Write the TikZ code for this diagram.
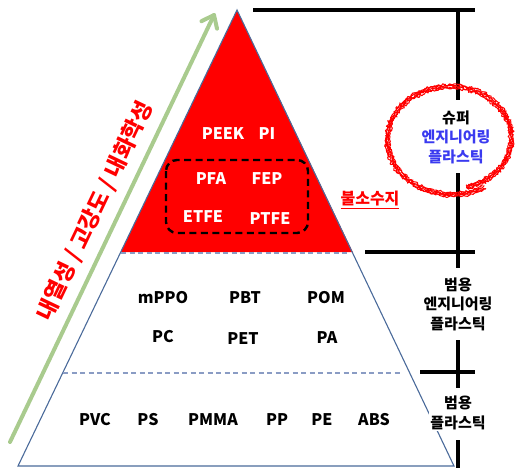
\documentclass[tikz,border=0pt]{standalone}
\usepackage{fontspec}
\setmainfont{Noto Sans CJK KR}
\usetikzlibrary{calc}
\definecolor{edgeblue}{HTML}{4A6A9A}
\definecolor{sepblue}{HTML}{8A9CC4}
\definecolor{arrowgreen}{HTML}{A9CB8E}
\definecolor{labelblue}{HTML}{3A3AF0}
\tikzset{
  x=1pt, y=-1pt,
  lbl/.style={font=\bfseries\fontsize{16}{16}\selectfont, inner sep=0pt},
  redlbl/.style={lbl, text=white},
  sep/.style={sepblue, dash pattern=on 5pt off 3.5pt, line width=1.1pt},
  bar/.style={black, line width=3.6pt},
  side/.style={font=\bfseries\fontsize{15}{19.5}\selectfont, align=center, inner sep=0pt},
  scrib/.style={red, line width=1pt, line join=round},
  greenline/.style={arrowgreen, line width=4pt, line cap=round, line join=round},
}
\begin{document}
\begin{tikzpicture}
\useasboundingbox (0,0) rectangle (516,468);
% coordinates of the pyramid
\coordinate (apex) at (237,10);
\coordinate (bl) at (18,466);
\coordinate (br) at (454,466);
\coordinate (rl) at (120.8,252);
\coordinate (rr) at (352.7,252);
% red top
\fill[red] (apex) -- (rr) -- (rl) -- cycle;
\draw[edgeblue, line width=1.1pt, line join=miter] (apex) -- (br) -- (bl) -- cycle;
% separators
\coordinate (s1a) at (121,253); \coordinate (s1b) at (350,253);
\coordinate (s2a) at (63,373); \coordinate (s2b) at (400,373);
\draw[sep] (s1a) -- (s1b);
\draw[sep] (s2a) -- (s2b);
% fluororesin box
\coordinate (fb1) at (166,160); \coordinate (fb2) at (308,233);
\draw[black, line width=2.4pt, dash pattern=on 7pt off 4.5pt, rounded corners=11pt] (fb1) rectangle (fb2);
% red section labels
\node[redlbl] (peek) at (223,134) {PEEK};
\node[redlbl] (pi) at (267,134) {PI};
\node[redlbl] (pfa) at (211,179) {PFA};
\node[redlbl] (fep) at (267,179) {FEP};
\node[redlbl] (etfe) at (203,217) {ETFE};
\node[redlbl] (ptfe) at (270,219) {PTFE};
% middle section
\node[lbl] (mppo) at (163,298) {mPPO};
\node[lbl] (pbt) at (245,298) {PBT};
\node[lbl] (pom) at (326,298) {POM};
\node[lbl] (pc) at (163,337) {PC};
\node[lbl] (pet) at (243,339) {PET};
\node[lbl] (pa) at (327,338) {PA};
% bottom section
\node[lbl] (pvc) at (95,420) {PVC};
\node[lbl] (ps) at (148,420) {PS};
\node[lbl] (pmma) at (213,420) {PMMA};
\node[lbl] (pp) at (277,420) {PP};
\node[lbl] (pe) at (322,420) {PE};
\node[lbl] (abs) at (374,420) {ABS};
% fluororesin label
\node[font=\bfseries\fontsize{16}{16}\selectfont, text=red, inner sep=0pt] (fluoro) at (370,200) {\underline{불소수지}};
% green arrow and text
\coordinate (ga) at (10,442);
\coordinate (gb) at (214,15);
\draw[greenline] (ga) -- (gb);
\draw[greenline] ($(gb)!14pt!38:(ga)$) -- (gb) -- ($(gb)!14pt!-38:(ga)$);
\node[font=\bfseries\fontsize{22}{22}\selectfont, text=red, rotate=64.5, inner sep=0pt] (prop) at (95,211) {내열성 / 고강도 / 내화학성};
% right bracket
\coordinate (t1) at (253,10); \coordinate (t2) at (475,10);
\draw[bar] (t1) -- (t2);
\coordinate (v1) at (458,12); \coordinate (v2) at (458,100);
\coordinate (v3) at (458,173); \coordinate (v4) at (458,268);
\coordinate (h1a) at (365,252); \coordinate (h1b) at (475,252);
\coordinate (v5) at (458,340); \coordinate (v6) at (458,388);
\coordinate (h2a) at (420,372); \coordinate (h2b) at (475,372);
\coordinate (v7) at (458,440); \coordinate (v8) at (458,468);
\draw[bar] (v1) -- (v2);
\draw[bar] (v3) -- (v4);
\draw[bar] (h1a) -- (h1b);
\draw[bar] (v5) -- (v6);
\draw[bar] (h2a) -- (h2b);
\draw[bar] (v7) -- (v8);
% right labels
\node[side, fill=white, inner sep=1pt] (super) at (456,137) {슈퍼\\\textcolor{labelblue}{엔지니어링}\\\textcolor{labelblue}{플라스틱}};
\node[side, fill=white, inner sep=1pt] (eng) at (458,304) {범용\\엔지니어링\\플라스틱};
\node[side, fill=white, inner sep=1pt] (gen) at (458,413) {범용\\플라스틱};
% scribbled circle
\pgfmathsetseed{7}
\foreach \o in {0,1,2,3,4}{
  \draw[scrib] plot[domain=-75:300, samples=300]
    ({451+(57+\o+0.018*(\x+75))*cos(\x)+1.3*rand}, {139-(48+\o+0.016*(\x+75))*sin(\x)+1.3*rand});
}
\end{tikzpicture}
\end{document}
